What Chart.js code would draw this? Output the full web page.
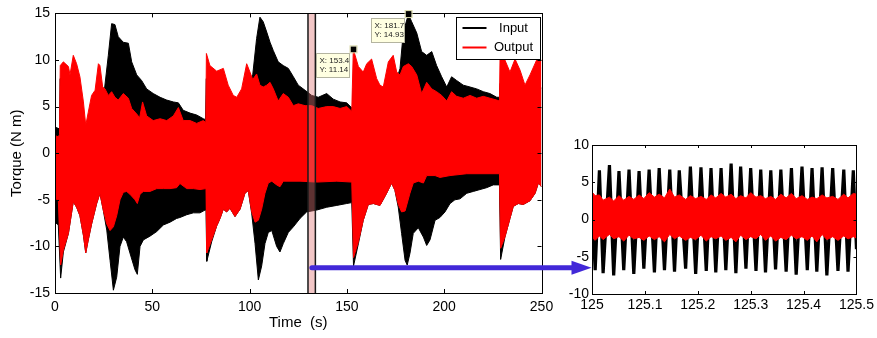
<!DOCTYPE html>
<html><head><meta charset="utf-8">
<script src="https://cdn.jsdelivr.net/npm/chart.js@4.4.1/dist/chart.umd.min.js"></script>
<style>
html,body{margin:0;padding:0;background:#fff;}
#wrap{position:relative;width:877px;height:338px;overflow:hidden;background:#fff;}
canvas{position:absolute;top:0;}
</style></head><body>
<div id="wrap">
<canvas id="main" width="877" height="338" style="left:0"></canvas>
<canvas id="zoom" width="317" height="338" style="left:560px"></canvas>
</div>
<script>
// ---------- main plot: envelopes of the two torque signals ----------
const xTicksMain = [0, 50, 100, 150, 200, 250];
const yTicksMain = [-15, -10, -5, 0, 5, 10, 15];

const inputUpperTime = [0, 2.4, 2.6, 5, 10, 15, 20, 24, 25.5, 27.4, 29.1, 30.8, 32.5, 35.1, 37.7, 39.4, 42, 44.5, 47.1, 50.5, 54, 57.4, 60.8, 63.4, 65.9, 69.4, 72.8, 76.2, 77.4, 77.7, 85, 95, 101.6, 103.6, 105.3, 107, 108.8, 110.5, 112.2, 114.7, 117.3, 119.9, 122.5, 125, 128.5, 131.9, 135.3, 139.6, 143, 146.5, 149.9, 152.8, 153.2, 165, 170, 175, 177.3, 179, 181.6, 183.3, 185.9, 188.4, 191, 193.6, 196.1, 198.7, 201.3, 203.8, 206.4, 209.8, 213.3, 216.7, 220.1, 223.5, 227, 228.4, 228.7, 240, 250];
const inputUpperValue = [2.8, 2.6, 8, 8, 8, 2.5, 5, 6.5, 7, 10.5, 13.9, 13.8, 12.5, 11.9, 11.8, 9.8, 8.4, 7.8, 6.9, 6.4, 6.0, 5.7, 5.5, 5.4, 4.6, 4.3, 4.1, 3.7, 3.6, 8, 7, 5, 8.4, 12.3, 14.6, 14.1, 13.0, 11.9, 11.0, 9.8, 9.4, 9.1, 8.2, 7.3, 6.75, 6.2, 6.0, 6.4, 5.8, 5.5, 5.4, 4.8, 7, 6.5, 6.5, 7.5, 9.1, 13.0, 14.9, 14.1, 12.9, 10.9, 10.5, 10.9, 9.4, 8.2, 7.1, 8.2, 7.8, 7.3, 7.1, 6.9, 6.6, 6.4, 6.0, 6.0, 7.5, 6.5, 7];

const inputLowerTime = [0, 1.7, 2.9, 4.3, 6.9, 9.4, 11.1, 12.8, 14.6, 15.8, 17.1, 18.8, 21.4, 23.1, 24.8, 26.6, 28.3, 30, 31.7, 33.4, 35.1, 36.8, 38.5, 41.1, 42.3, 43.7, 45.4, 48.8, 52.3, 55.7, 59.1, 62.5, 64.2, 67.7, 71.1, 74.5, 77.1, 77.6, 78, 80.5, 83.1, 84.8, 86.5, 88.2, 89.9, 92.5, 95.1, 97.6, 99.3, 101.1, 102.8, 104.5, 106.2, 107.9, 109.6, 111.4, 113.9, 115.6, 117.3, 119.9, 122.5, 125.9, 129.3, 134.5, 139.6, 144.8, 149.9, 152.5, 153.4, 155.9, 158.4, 161, 163.6, 167, 170.4, 173, 174.7, 176.4, 178.1, 179.9, 181, 182.4, 184.1, 186.7, 189.3, 191, 192.7, 195.3, 197.8, 200.4, 203, 205.5, 208.1, 211.6, 215, 218.4, 221.8, 225.2, 228.4, 229, 231.2, 233.8, 235.5, 238.1, 240.6, 244.1, 246.7, 248.4, 250];
const inputLowerValue = [-7.4, -7.7, -13.4, -10.6, -8.6, -5.2, -5.8, -6.7, -8.8, -10.7, -9.3, -7.6, -5.4, -4.3, -6.1, -8.25, -11.5, -14.7, -13.3, -10.0, -9.0, -9.5, -10.7, -12.5, -13.0, -10.0, -9.3, -8.9, -8.4, -7.7, -7.4, -7.0, -6.9, -6.6, -6.4, -6.4, -6.1, -6.1, -11.6, -9.5, -7.8, -7.0, -6.0, -6.3, -5.9, -6.8, -6.0, -4.3, -4.0, -6.5, -9.7, -13.6, -12.1, -9.7, -8.5, -8.3, -10.0, -10.6, -9.7, -8.5, -7.9, -7.0, -6.3, -6.1, -5.8, -5.6, -5.4, -5.3, -12.1, -9.7, -7.2, -5.5, -5.4, -5.6, -4.3, -3.2, -4.0, -5.8, -8.6, -11.5, -12.0, -10.75, -8.6, -8.0, -9.0, -9.9, -9.3, -7.2, -6.9, -6.3, -5.4, -5.0, -4.9, -4.3, -4.1, -3.9, -3.7, -3.4, -3.4, -11.4, -9.0, -7.0, -5.7, -5.4, -5.5, -5.1, -4.3, -3.2, -3.6];

const outputUpperTime = [0, 1.7, 2.3, 2.7, 4.3, 6.9, 7.7, 9.4, 11.1, 12.8, 14.6, 15.8, 17.1, 18.8, 20.6, 22.3, 23.1, 24.5, 25.7, 27.4, 29.1, 30.8, 32.5, 35.1, 37.7, 39.4, 42, 43.5, 45, 47.1, 50.5, 54, 57.4, 60.8, 63.4, 65.9, 69.4, 72.8, 76.2, 77.5, 77.8, 79.6, 83.1, 86.5, 89, 91.6, 93.4, 95.9, 98.5, 100.2, 101.6, 103.6, 105.3, 107, 108.8, 110.5, 112.2, 114.7, 117.3, 119.9, 122.5, 125, 128.5, 131.9, 135.3, 139.6, 143, 146.5, 149.9, 152.5, 153.3, 155.9, 158.4, 160.2, 162.7, 165.3, 167, 168.7, 171.3, 173.8, 175.6, 177.3, 179, 181.6, 183.3, 185.9, 188.4, 191, 193.6, 196.1, 198.7, 201.3, 203.8, 206.4, 209.8, 213.3, 216.7, 220.1, 223.5, 227, 228.4, 228.7, 231.2, 233.8, 236.4, 239, 241.5, 244.1, 247.5, 250];
const outputUpperValue = [1.9, 1.75, 2.0, 9.4, 9.8, 9.3, 8.4, 10.5, 9.6, 8.2, 5.5, 3.0, 4.4, 6.2, 6.75, 9.6, 9.4, 7.1, 6.9, 6.2, 6.6, 6.0, 5.7, 6.4, 5.9, 4.8, 4.2, 3.8, 5.5, 4.0, 3.5, 3.7, 3.5, 4.0, 4.9, 3.5, 3.5, 3.2, 3.5, 3.3, 10.7, 9.4, 8.8, 9.1, 7.3, 6.2, 6.0, 6.9, 9.6, 8.7, 7.9, 8.5, 7.3, 7.1, 7.3, 7.6, 6.9, 5.6, 6.4, 6.0, 5.1, 5.3, 5.1, 5.1, 4.8, 5.0, 5.0, 4.8, 5.0, 4.5, 11.14, 9.3, 8.7, 9.6, 10.1, 8.0, 7.3, 7.1, 9.8, 10.5, 8.7, 8.4, 9.3, 9.6, 9.3, 8.4, 6.4, 7.6, 6.9, 6.6, 6.2, 5.6, 6.6, 6.1, 5.9, 6.2, 5.9, 6.1, 5.9, 5.7, 5.6, 10.3, 10.0, 8.7, 10.1, 8.9, 7.3, 8.4, 10.0, 10.0];

const outputLowerTime = [0, 1.7, 2.9, 4.3, 6.9, 9.4, 11.1, 12.8, 14.6, 15.8, 17.1, 18.8, 21.4, 23.1, 24.8, 26.6, 28.3, 30, 31.7, 33.4, 35.1, 36.8, 38.5, 41.1, 42.3, 43.7, 45.4, 48.8, 52.3, 55.7, 59.1, 62.5, 64.2, 67.7, 71.1, 74.5, 77.6, 78, 80.5, 83.1, 84.8, 86.5, 88.2, 89.9, 92.5, 95.1, 97.6, 99.3, 101.1, 102.8, 104.5, 106.2, 107.9, 109.6, 111.4, 113.9, 115.6, 117.3, 125.9, 134.5, 144.8, 152.5, 153.4, 155.9, 158.4, 161, 163.6, 167, 170.4, 173, 174.7, 176.4, 178.1, 179.9, 182.4, 184.1, 186.7, 189.3, 191, 195.3, 197.8, 203, 211.6, 228.4, 229, 231.2, 233.8, 235.5, 238.1, 240.6, 244.1, 246.7, 248.4, 250];
const outputLowerValue = [-4.9, -5.0, -12.0, -10.4, -8.6, -5.2, -5.8, -6.7, -8.8, -10.7, -9.3, -7.6, -5.4, -4.3, -6.1, -7.6, -8.3, -7.9, -6.7, -5.0, -4.2, -4.1, -4.4, -5.0, -5.4, -4.4, -4.1, -4.1, -3.8, -3.8, -3.8, -3.7, -3.25, -3.8, -3.8, -3.9, -3.8, -10.7, -9.3, -7.8, -7.0, -6.0, -6.3, -5.9, -6.8, -6.0, -4.3, -4.0, -6.3, -7.4, -7.2, -6.0, -4.3, -3.2, -3.0, -3.4, -3.6, -3.0, -3.0, -3.1, -3.0, -3.1, -11.2, -9.5, -7.2, -5.5, -5.4, -5.6, -4.3, -3.2, -4.0, -5.5, -6.3, -6.2, -4.3, -3.2, -3.0, -3.2, -2.4, -2.4, -2.6, -2.4, -2.2, -2.2, -10.2, -9.0, -7.0, -5.7, -5.4, -5.5, -5.1, -4.3, -3.2, -3.6];

const tipTime = [153.4, 181.7];
const tipValue = [11.14, 14.93];
const zoomWindow = [130, 133.8];
const arrowStartTime = 132;
const arrowLevel = -12.3;

// ---------- inset: 125 s to 125.5 s ----------
const xTicksZoom = [125, 125.1, 125.2, 125.3, 125.4, 125.5];
const yTicksZoom = [-10, -5, 0, 5, 10];
const zoomTime = [125.000, 125.006, 125.014, 125.021, 125.033, 125.041, 125.051, 125.060, 125.070, 125.079, 125.089, 125.098, 125.108, 125.118, 125.127, 125.137, 125.147, 125.156, 125.165, 125.177, 125.186, 125.196, 125.206, 125.216, 125.225, 125.234, 125.244, 125.253, 125.263, 125.272, 125.281, 125.291, 125.300, 125.310, 125.319, 125.328, 125.338, 125.347, 125.357, 125.367, 125.377, 125.386, 125.397, 125.407, 125.416, 125.425, 125.435, 125.444, 125.455, 125.465, 125.476, 125.484, 125.494, 125.500];
const zoomInput = [2.0, -6.8, 6.6, -7.2, 7.3, -7.5, 6.5, -6.8, 6.7, -7.3, 6.5, -6.6, 6.7, -7.1, 6.9, -6.8, 6.7, -7.0, 6.6, -6.6, 7.1, -7.3, 7.0, -6.9, 6.9, -7.1, 6.9, -6.8, 7.5, -7.2, 7.1, -6.6, 6.9, -6.9, 6.7, -7.1, 6.6, -6.7, 6.7, -7.0, 6.9, -7.4, 7.1, -6.8, 6.9, -7.0, 7.0, -7.5, 6.9, -6.9, 6.7, -7.0, 6.6, -4.0];
const zoomOutputHigh = [3.7, 3.2, 3.3, 2.6, 3.0, 2.5, 3.2, 2.6, 3.1, 2.7, 3.3, 2.8, 3.6, 3.0, 3.4, 2.9, 4.1, 3.0, 3.3, 2.7, 3.2, 2.8, 3.1, 2.7, 3.3, 2.9, 3.5, 3.0, 3.4, 2.8, 3.2, 2.9, 3.6, 3.0, 3.2, 2.8, 3.1, 2.7, 3.4, 2.9, 3.5, 2.8, 3.2, 2.7, 3.0, 2.8, 3.3, 2.9, 3.1, 2.7, 3.4, 2.9, 3.5, 3.4];
const zoomOutputLow = [-2.4, -2.8, -2.2, -2.7, -2.0, -2.6, -2.3, -2.9, -2.1, -2.6, -2.4, -2.8, -2.2, -2.7, -2.3, -3.0, -2.0, -2.6, -2.2, -2.8, -2.4, -2.7, -2.1, -2.9, -2.3, -2.6, -2.2, -2.8, -2.4, -3.0, -2.1, -2.7, -2.3, -2.6, -2.0, -2.8, -2.2, -2.9, -2.4, -2.7, -2.1, -2.6, -2.3, -2.8, -2.2, -3.0, -2.0, -2.7, -2.3, -2.8, -2.2, -2.6, -2.3, -2.5];

const seriesNames = ['Input', 'Output'];
const seriesColors = ['#000000', '#ff0000'];
// -------------------------------------------------

const FONT = '"Liberation Sans", Arial, Helvetica, sans-serif';
Chart.defaults.font.family = FONT;
Chart.defaults.color = '#000';

const pts = (ts, vs) => ts.map((t, i) => ({x: t, y: vs[i]}));
const band = (data, color, fill, order, legend) => ({
  data, borderColor: color, backgroundColor: color, borderWidth: 1,
  pointRadius: 0, tension: 0, fill, order, showInLegend: legend
});

const framePlugin = {
  id: 'frame',
  afterDatasetsDraw(chart, args, opts) {
    const {ctx, chartArea: a, scales: {x, y}} = chart;
    const L = opts.tickLen || 4;
    ctx.save();
    ctx.strokeStyle = '#000';
    ctx.lineWidth = 1;
    ctx.beginPath();
    x.ticks.forEach(t => {
      const p = Math.round(x.getPixelForValue(t.value)) + 0.5;
      ctx.moveTo(p, a.bottom); ctx.lineTo(p, a.bottom - L);
      ctx.moveTo(p, a.top); ctx.lineTo(p, a.top + L);
    });
    y.ticks.forEach(t => {
      const p = Math.round(y.getPixelForValue(t.value)) + 0.5;
      ctx.moveTo(a.left, p); ctx.lineTo(a.left + L, p);
      ctx.moveTo(a.right, p); ctx.lineTo(a.right - L, p);
    });
    ctx.stroke();
    ctx.strokeRect(Math.round(a.left) + 0.5, Math.round(a.top) + 0.5,
                   Math.round(a.right - a.left), Math.round(a.bottom - a.top));
    ctx.restore();
  }
};

const tickFmt = v => String(Math.round(v * 10) / 10);

// ---------- inset chart ----------
const zoomChart = new Chart(document.getElementById('zoom'), {
  type: 'line',
  data: {
    datasets: [
      {data: pts(zoomTime, zoomInput), borderColor: seriesColors[0], borderWidth: 3.2,
       pointRadius: 0, tension: 0, fill: false, order: 2},
      band(pts(zoomTime, zoomOutputHigh), seriesColors[1], false, 1, false),
      band(pts(zoomTime, zoomOutputLow), seriesColors[1], '-1', 1, false)
    ]
  },
  options: {
    responsive: false, animation: false, events: [],
    layout: {padding: {left: 0, right: 19, top: 145, bottom: 0}},
    plugins: {legend: {display: false}, tooltip: {enabled: false}, frame: {tickLen: 3}},
    scales: {
      x: {type: 'linear', min: xTicksZoom[0], max: xTicksZoom[xTicksZoom.length - 1],
          afterBuildTicks(s) { s.ticks = xTicksZoom.map(v => ({value: v})); },
          ticks: {callback: tickFmt, padding: 3, font: {size: 14}, color: '#000', maxRotation: 0, autoSkip: false},
          grid: {display: false, drawTicks: false, tickLength: 0}, border: {display: false},
          afterFit(s) { s.height = 44; }},
      y: {min: yTicksZoom[0], max: yTicksZoom[yTicksZoom.length - 1],
          afterBuildTicks(s) { s.ticks = yTicksZoom.map(v => ({value: v})); },
          ticks: {padding: 3, font: {size: 14}, color: '#000'},
          grid: {display: false, drawTicks: false, tickLength: 0}, border: {display: false},
          afterFit(s) { s.width = 32; }}
    }
  },
  plugins: [framePlugin]
});

// ---------- main chart ----------
const decorPlugin = {
  id: 'decor',
  afterDatasetsDraw(chart) {
    const {ctx, chartArea: a, scales: {x, y}} = chart;
    ctx.save();
    const x1 = x.getPixelForValue(zoomWindow[0]), x2 = x.getPixelForValue(zoomWindow[1]);
    ctx.fillStyle = 'rgba(225,120,120,0.42)';
    ctx.fillRect(x1, a.top, x2 - x1, a.bottom - a.top);
    ctx.strokeStyle = '#1a1a1a';
    ctx.lineWidth = 1.5;
    ctx.beginPath();
    ctx.moveTo(x1, a.top); ctx.lineTo(x1, a.bottom);
    ctx.moveTo(x2, a.top); ctx.lineTo(x2, a.bottom);
    ctx.stroke();
    ctx.restore();
  },
  afterDraw(chart) {
    const {ctx, chartArea: a, scales: {x, y}} = chart;
    ctx.save();
    tipTime.forEach((t, i) => {
      const px = x.getPixelForValue(t), py = y.getPixelForValue(tipValue[i]);
      const w = 33, h = 24, bx = Math.round(px - 4.5 - w) + 0.5, by = Math.round(py + 3.5) + 0.5;
      ctx.fillStyle = '#ffffe1';
      ctx.fillRect(bx, by, w, h);
      ctx.strokeStyle = '#b4b4a0';
      ctx.lineWidth = 1;
      ctx.strokeRect(bx, by, w, h);
      ctx.fillStyle = '#222';
      ctx.font = '8px ' + FONT;
      ctx.textAlign = 'left';
      ctx.textBaseline = 'middle';
      ctx.fillText('X: ' + t, bx + 3, by + 7.5);
      ctx.fillText('Y: ' + tipValue[i], bx + 3, by + 16.5);
      ctx.fillStyle = '#000';
      ctx.strokeStyle = '#d8d8a8';
      ctx.fillRect(px - 3, py - 3, 6, 6);
      ctx.strokeRect(px - 3.5, py - 3.5, 7, 7);
    });
    const lw = 84, lh = 42;
    const lx = Math.round(a.right - 2 - lw) + 0.5, ly = Math.round(a.top + 4) + 0.5;
    ctx.fillStyle = '#fff';
    ctx.fillRect(lx, ly, lw, lh);
    ctx.strokeStyle = '#000';
    ctx.lineWidth = 1;
    ctx.strokeRect(lx, ly, lw, lh);
    const items = chart.data.datasets.filter(d => d.showInLegend);
    items.forEach((d, i) => {
      const yy = ly + 10.5 + i * 19.5;
      ctx.strokeStyle = d.borderColor;
      ctx.lineWidth = 2;
      ctx.beginPath();
      ctx.moveTo(lx + 6, yy); ctx.lineTo(lx + 30, yy);
      ctx.stroke();
      ctx.fillStyle = '#000';
      ctx.font = '13px ' + FONT;
      ctx.textAlign = 'center';
      ctx.textBaseline = 'middle';
      ctx.fillText(d.label, lx + 57, yy);
    });
    const zc = window.zoomChartRef;
    const ax0 = x.getPixelForValue(arrowStartTime), ay = y.getPixelForValue(arrowLevel);
    const ax1 = zc ? zc.chartArea.left + zc.canvas.offsetLeft - 0.5 : 591;
    const col = '#4228d8';
    ctx.strokeStyle = col;
    ctx.fillStyle = col;
    ctx.lineWidth = 5;
    ctx.lineCap = 'round';
    ctx.beginPath();
    ctx.moveTo(ax0, ay); ctx.lineTo(ax1 - 16, ay);
    ctx.stroke();
    ctx.beginPath();
    ctx.moveTo(ax1, ay);
    ctx.lineTo(ax1 - 20, ay - 7);
    ctx.lineTo(ax1 - 20, ay + 7);
    ctx.closePath();
    ctx.fill();
    ctx.restore();
  }
};
window.zoomChartRef = zoomChart;

new Chart(document.getElementById('main'), {
  type: 'line',
  data: {
    datasets: [
      band(pts(inputUpperTime, inputUpperValue), seriesColors[0], false, 2, false),
      Object.assign(band(pts(inputLowerTime, inputLowerValue), seriesColors[0], '-1', 2, true), {label: seriesNames[0]}),
      band(pts(outputUpperTime, outputUpperValue), seriesColors[1], false, 1, false),
      Object.assign(band(pts(outputLowerTime, outputLowerValue), seriesColors[1], '-1', 1, true), {label: seriesNames[1]})
    ]
  },
  options: {
    responsive: false, animation: false, events: [],
    layout: {padding: {left: 8, right: 335.5, top: 13, bottom: 0}},
    plugins: {legend: {display: false}, tooltip: {enabled: false}, frame: {tickLen: 4}},
    scales: {
      x: {type: 'linear', min: xTicksMain[0], max: xTicksMain[xTicksMain.length - 1],
          afterBuildTicks(s) { s.ticks = xTicksMain.map(v => ({value: v})); },
          ticks: {padding: 6, font: {size: 14}, color: '#000', maxRotation: 0, autoSkip: false},
          grid: {display: false, drawTicks: false, tickLength: 0}, border: {display: false},
          title: {display: true, text: 'Time  (s)', font: {size: 15}, color: '#000', padding: {top: 0, bottom: 6}},
          afterFit(s) { s.height = 45; }},
      y: {min: yTicksMain[0], max: yTicksMain[yTicksMain.length - 1],
          afterBuildTicks(s) { s.ticks = yTicksMain.map(v => ({value: v})); },
          ticks: {padding: 5, font: {size: 14}, color: '#000'},
          grid: {display: false, drawTicks: false, tickLength: 0}, border: {display: false},
          title: {display: true, text: 'Torque (N m)', font: {size: 15}, color: '#000', padding: {top: 0, bottom: 0}},
          afterFit(s) { s.width = 47; }}
    }
  },
  plugins: [decorPlugin, framePlugin]
});
</script>
</body></html>
